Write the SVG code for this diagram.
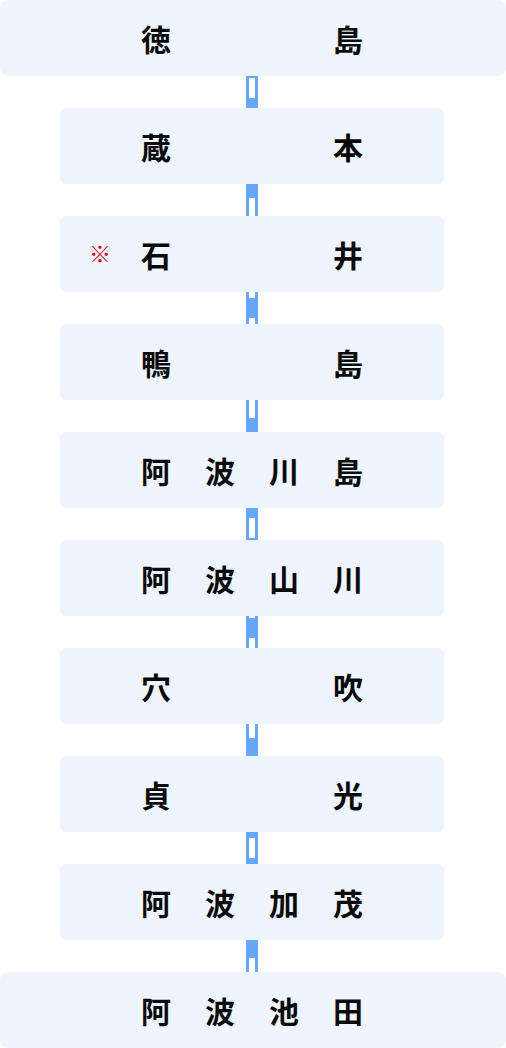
<svg xmlns="http://www.w3.org/2000/svg" width="506" height="1048" viewBox="0 0 506 1048">
<style>
.box{fill:#eef5fe}
.t{font-family:"Noto Sans CJK JP","Noto Sans CJK SC",sans-serif;font-weight:bold;font-size:30px;fill:#0a0a0a;text-anchor:middle}
.mark{font-family:"Noto Sans CJK JP",sans-serif;font-size:22px;fill:#e60012;text-anchor:middle}
.rail{stroke:#66a8ff;stroke-width:12}
.tie{stroke:#fff;stroke-width:6;stroke-dasharray:20 20}
</style>
<g id="connectors">
<line class="rail" x1="252" y1="76" x2="252" y2="108"/><line class="tie" x1="252" y1="76" x2="252" y2="108" stroke-dashoffset="38"/>
<line class="rail" x1="252" y1="184" x2="252" y2="216"/><line class="tie" x1="252" y1="184" x2="252" y2="216" stroke-dashoffset="26"/>
<line class="rail" x1="252" y1="292" x2="252" y2="324"/><line class="tie" x1="252" y1="292" x2="252" y2="324" stroke-dashoffset="14"/>
<line class="rail" x1="252" y1="400" x2="252" y2="432"/><line class="tie" x1="252" y1="400" x2="252" y2="432" stroke-dashoffset="2"/>
<line class="rail" x1="252" y1="508" x2="252" y2="540"/><line class="tie" x1="252" y1="508" x2="252" y2="540" stroke-dashoffset="30"/>
<line class="rail" x1="252" y1="616" x2="252" y2="648"/><line class="tie" x1="252" y1="616" x2="252" y2="648" stroke-dashoffset="18"/>
<line class="rail" x1="252" y1="724" x2="252" y2="756"/><line class="tie" x1="252" y1="724" x2="252" y2="756" stroke-dashoffset="6"/>
<line class="rail" x1="252" y1="832" x2="252" y2="864"/><line class="tie" x1="252" y1="832" x2="252" y2="864" stroke-dashoffset="34"/>
<line class="rail" x1="252" y1="940" x2="252" y2="972"/><line class="tie" x1="252" y1="940" x2="252" y2="972" stroke-dashoffset="22"/>
</g>
<g id="tokushima"><rect class="box" x="0" y="0" width="506" height="76" rx="8"/><text class="t" y="51"><tspan x="156">徳</tspan><tspan x="348">島</tspan></text></g>
<g id="kuramoto"><rect class="box" x="60" y="108" width="384" height="76" rx="6"/><text class="t" y="159"><tspan x="156">蔵</tspan><tspan x="348">本</tspan></text></g>
<g id="ishii"><rect class="box" x="60" y="216" width="384" height="76" rx="6"/><text class="mark" x="100" y="262">※</text><text class="t" y="267"><tspan x="156">石</tspan><tspan x="348">井</tspan></text></g>
<g id="kamojima"><rect class="box" x="60" y="324" width="384" height="76" rx="6"/><text class="t" y="375"><tspan x="156">鴨</tspan><tspan x="348">島</tspan></text></g>
<g id="awakawashima"><rect class="box" x="60" y="432" width="384" height="76" rx="6"/><text class="t" y="483"><tspan x="156">阿</tspan><tspan x="220">波</tspan><tspan x="284">川</tspan><tspan x="348">島</tspan></text></g>
<g id="awayamakawa"><rect class="box" x="60" y="540" width="384" height="76" rx="6"/><text class="t" y="591"><tspan x="156">阿</tspan><tspan x="220">波</tspan><tspan x="284">山</tspan><tspan x="348">川</tspan></text></g>
<g id="anabuki"><rect class="box" x="60" y="648" width="384" height="76" rx="6"/><text class="t" y="699"><tspan x="156">穴</tspan><tspan x="348">吹</tspan></text></g>
<g id="sadamitsu"><rect class="box" x="60" y="756" width="384" height="76" rx="6"/><text class="t" y="807"><tspan x="156">貞</tspan><tspan x="348">光</tspan></text></g>
<g id="awakamo"><rect class="box" x="60" y="864" width="384" height="76" rx="6"/><text class="t" y="915"><tspan x="156">阿</tspan><tspan x="220">波</tspan><tspan x="284">加</tspan><tspan x="348">茂</tspan></text></g>
<g id="awaikeda"><rect class="box" x="0" y="972" width="506" height="76" rx="8"/><text class="t" y="1023"><tspan x="156">阿</tspan><tspan x="220">波</tspan><tspan x="284">池</tspan><tspan x="348">田</tspan></text></g>
</svg>
